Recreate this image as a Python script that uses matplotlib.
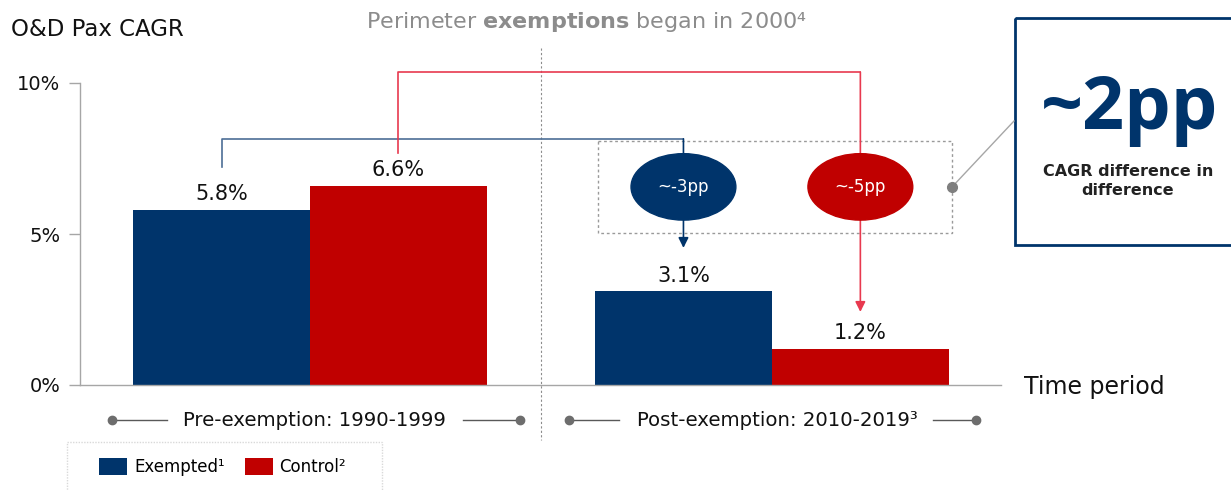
import matplotlib.pyplot as plt
from matplotlib.patches import Ellipse, Rectangle
import numpy as np

plt.rcParams['font.family'] = ['DejaVu Sans']

# --- data ---
periods = ['Pre-exemption: 1990-1999', 'Post-exemption: 2010-2019³']
series_names = ['Exempted¹', 'Control²']
exempted = [5.8, 3.1]
control = [6.6, 1.2]
changes = ['~-3pp', '~-5pp']
yticks = [0, 5, 10]
ytick_labels = ['0%', '5%', '10%']

NAVY = '#00346b'
RED = '#c00000'
BLUE_LINE = '#4d6e96'
RED_LINE = '#e8394f'
GRAY = '#7f7f7f'

W, H = 1231, 491
fig = plt.figure(figsize=(W / 100, H / 100), dpi=100)

# overlay in pixel coordinates for free-floating decorations
ov = fig.add_axes([0, 0, 1, 1], zorder=0)
ov.set_xlim(0, W)
ov.set_ylim(H, 0)
ov.axis('off')

ax = fig.add_axes([80 / W, 106 / H, 921 / W, 302 / H], zorder=1)
ax.patch.set_visible(False)

x = np.arange(len(periods))
bw = 0.383
b1 = ax.bar(x - bw / 2, exempted, bw, color=NAVY, label=series_names[0])
b2 = ax.bar(x + bw / 2, control, bw, color=RED, label=series_names[1])
for bars in (b1, b2):
    ax.bar_label(bars, labels=[f'{v:.1f}%' for v in bars.datavalues],
                 padding=4, fontsize=15, color='#111111')

ax.set_xlim(-0.498, 1.496)
ax.set_ylim(0, 10)
ax.set_yticks(yticks)
ax.set_yticklabels(ytick_labels, fontsize=14, color='#111111')
ax.set_xticks([])
ax.tick_params(axis='y', length=8, color='#a6a6a6', width=1, pad=6)
for s in ('top', 'right'):
    ax.spines[s].set_visible(False)
for s in ('left', 'bottom'):
    ax.spines[s].set_color('#a6a6a6')
    ax.spines[s].set_linewidth(1)

# connectors from pre bars to post bars
lw = 1.2
xe = x - bw / 2
xc = x + bw / 2
ax.plot([xe[0], xe[0], xe[1]], [7.22, 8.15, 8.15], color=BLUE_LINE, lw=lw, clip_on=False)
ax.annotate('', xy=(xe[1], 4.54), xytext=(xe[1], 8.15),
            arrowprops=dict(arrowstyle='-|>,head_length=0.6,head_width=0.3',
                            color=NAVY, lw=lw, shrinkA=0, shrinkB=0))
ax.plot([xc[0], xc[0], xc[1]], [7.68, 10.36, 10.36], color=RED_LINE, lw=lw, clip_on=False)
ax.annotate('', xy=(xc[1], 2.42), xytext=(xc[1], 10.36),
            arrowprops=dict(arrowstyle='-|>,head_length=0.6,head_width=0.3',
                            color=RED_LINE, lw=lw, shrinkA=0, shrinkB=0),
            annotation_clip=False)

# change ellipses
for xp, txt, col in zip([xe[1], xc[1]], changes, [NAVY, RED]):
    ax.add_patch(Ellipse((xp, 6.56), 0.227, 2.2, color=col, zorder=5, clip_on=False))
    ax.text(xp, 6.56, txt, color='white', fontsize=12,
            ha='center', va='center', zorder=6)

# titles
ov.text(11, 29, 'O&D Pax CAGR', fontsize=16.5, color='#111111', va='center', ha='left')
ov.text(586, 22, 'Perimeter $\\mathbf{exemptions}$ began in 2000⁴', fontsize=16,
        color='#8c8c8c', ha='center', va='center')
ov.plot([541, 541], [48, 440], color='#8c8c8c', lw=0.8, ls=(0, (2, 2)))

# dashed box and callout
ov.add_patch(Rectangle((598, 141), 354, 92, fill=False, ec='#9a9a9a', lw=1, ls=(0, (2, 2))))
ov.plot([952, 1014], [187, 121], color='#a6a6a6', lw=1)
ov.plot([952], [187], 'o', color=GRAY, ms=7)
ov.add_patch(Rectangle((1015, 18), 230, 227, fill=False, ec=NAVY, lw=2, clip_on=False))
ov.text(1130, 110, '~2pp', fontsize=53, fontweight='bold', color=NAVY, ha='center',
        va='center', family='Open Sans')
ov.text(1128, 181, 'CAGR difference in\ndifference', fontsize=11.5, fontweight='semibold',
        color='#222222', ha='center', va='center', linespacing=1.35)

ov.text(1024, 387, 'Time period', fontsize=17, color='#111111', ha='left', va='center')

# group labels with lines
for cx, label, (l0, l1, r0, r1) in zip([314, 777], periods,
                                        [(112, 167, 463, 520), (569, 619, 933, 976)]):
    ov.text(cx, 420, label, fontsize=14.2, color='#111111', ha='center', va='center')
    ov.plot([l0, l1], [420, 420], color='#595959', lw=1)
    ov.plot([r0, r1], [420, 420], color='#595959', lw=1)
    ov.plot([l0, r1], [420, 420], 'o', color='#6d6d6d', ms=6)

# legend
ov.add_patch(Rectangle((67, 442), 315, 60, fill=False, ec='#d9d9d9', lw=1, ls=(0, (1, 1)),
                       clip_on=False))
ax.legend(handles=[b1, b2], loc='center left', bbox_to_anchor=(84 / W, 1 - 467 / H),
          bbox_transform=fig.transFigure, ncol=2, frameon=False, fontsize=12,
          handlelength=1.7, handleheight=1.25, handletextpad=0.4, columnspacing=1.2)

fig.savefig('out.png', dpi=100)
